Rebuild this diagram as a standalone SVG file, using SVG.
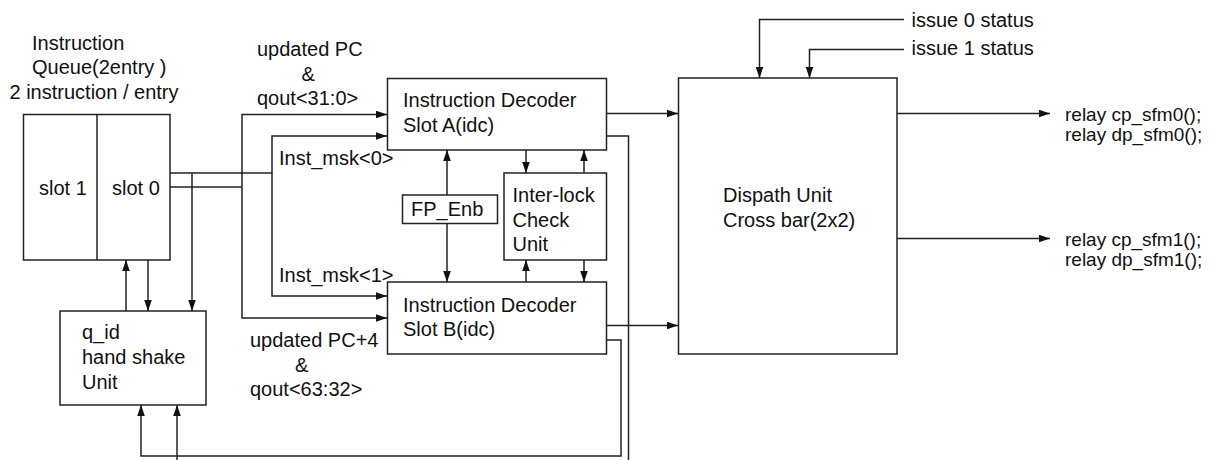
<svg xmlns="http://www.w3.org/2000/svg" width="1213" height="460" viewBox="0 0 1213 460">
<style>
.box{fill:#fff;stroke:#222;stroke-width:1.5}
.ln{fill:none;stroke:#222;stroke-width:1.5}
.ar{fill:none;stroke:#222;stroke-width:1.5;marker-end:url(#ah)}
text{font-family:"Liberation Sans",Arial,sans-serif;font-size:20px;fill:#111}
.relay{font-size:19px}
</style>
<defs>
<marker id="ah" markerUnits="userSpaceOnUse" markerWidth="13" markerHeight="10" refX="11" refY="4" orient="auto">
<path d="M0,0.2 L11,4 L0,7.8 Z" fill="#111"/>
</marker>
</defs>
<rect width="1213" height="460" fill="#fff"/>
<g id="queue">
<rect class="box" x="23.5" y="114.5" width="146.5" height="145.5"/>
<line class="ln" x1="97" y1="114.5" x2="97" y2="260"/>
<text x="32" y="49.5">Instruction</text>
<text x="32" y="74">Queue(2entry )</text>
<text x="9.5" y="99">2 instruction / entry</text>
<text x="39" y="195">slot 1</text>
<text x="112" y="195">slot 0</text>
</g>
<g id="handshake">
<rect class="box" x="60" y="311" width="146" height="94"/>
<text x="82" y="339">q_id</text>
<text x="82" y="364">hand shake</text>
<text x="82" y="389">Unit</text>
</g>
<g id="decoderA">
<rect class="box" x="387.5" y="78.5" width="219" height="71.5"/>
<text x="403" y="106.5">Instruction Decoder</text>
<text x="403" y="131.5">Slot A(idc)</text>
</g>
<g id="decoderB">
<rect class="box" x="387.5" y="282" width="219" height="72"/>
<text x="403" y="311.5">Instruction Decoder</text>
<text x="403" y="336">Slot B(idc)</text>
</g>
<g id="fpenb">
<rect class="box" x="402.5" y="195" width="95" height="28.5"/>
<text x="411" y="216">FP_Enb</text>
</g>
<g id="interlock">
<rect class="box" x="504" y="173" width="102.5" height="87"/>
<text x="512.5" y="202">Inter-lock</text>
<text x="512.5" y="226.5">Check</text>
<text x="512.5" y="250.5">Unit</text>
</g>
<g id="dispatch">
<rect class="box" x="678.5" y="78" width="218.5" height="276"/>
<text x="723" y="202">Dispath Unit</text>
<text x="723" y="226.5">Cross bar(2x2)</text>
</g>
<g id="labels">
<text x="257" y="56">updated PC</text>
<text x="301.5" y="81">&amp;</text>
<text x="257" y="105">qout&lt;31:0&gt;</text>
<text x="279" y="165">Inst_msk&lt;0&gt;</text>
<text x="279" y="281.5">Inst_msk&lt;1&gt;</text>
<text x="250" y="346.5">updated PC+4</text>
<text x="295" y="371.5">&amp;</text>
<text x="250" y="396">qout&lt;63:32&gt;</text>
<text x="911.5" y="26.5">issue 0 status</text>
<text x="911.5" y="55">issue 1 status</text>
<text class="relay" x="1065" y="121">relay cp_sfm0();</text>
<text class="relay" x="1065" y="140.5">relay dp_sfm0();</text>
<text class="relay" x="1065" y="246">relay cp_sfm1();</text>
<text class="relay" x="1065" y="265.5">relay dp_sfm1();</text>
</g>
<g id="connectors">
<path class="ar" d="M170,173 H272 V136 H387"/>
<path class="ar" d="M272,173 V296 H387"/>
<path class="ar" d="M192,173 V311"/>
<path class="ln" d="M170,187 H242"/>
<path class="ar" d="M242,187 V114.5 H387"/>
<path class="ar" d="M242,187 V318 H387"/>
<path class="ar" d="M126,311 V260"/>
<path class="ar" d="M148,260 V311"/>
<path class="ar" d="M447,195 V150"/>
<path class="ar" d="M447,223.5 V282"/>
<path class="ar" d="M526,150 V173"/>
<path class="ar" d="M584,173 V150"/>
<path class="ar" d="M526,282 V260"/>
<path class="ar" d="M584,260 V282"/>
<path class="ar" d="M606.5,113.5 H678"/>
<path class="ar" d="M606.5,325.5 H678"/>
<path class="ln" d="M606.5,136 H628.5 V460"/>
<path class="ar" d="M606.5,340 H621 V456 H141 V405"/>
<path class="ar" d="M177,460 V405"/>
<path class="ar" d="M904,19.5 H759.5 V78"/>
<path class="ar" d="M904,49.5 H809.5 V78"/>
<path class="ar" d="M897,113.5 H1050"/>
<path class="ar" d="M897,238.5 H1050"/>
</g>
</svg>
